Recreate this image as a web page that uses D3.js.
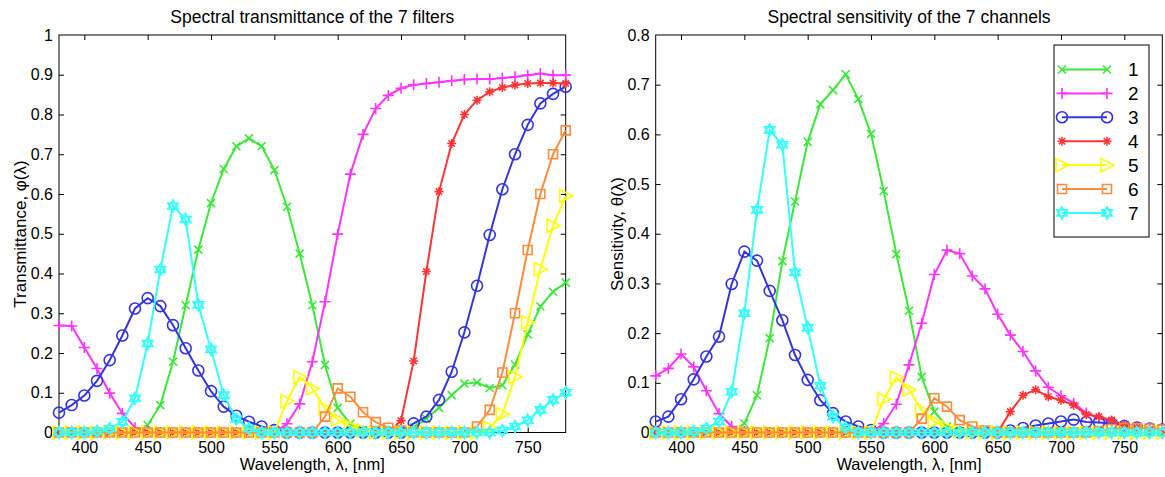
<!DOCTYPE html>
<html>
<head>
<meta charset="utf-8">
<script src="https://cdn.jsdelivr.net/npm/d3@7"></script>
<style>
  body { margin: 0; background: #fff; }
  svg text { font-family: "Liberation Sans", Arial, sans-serif; fill: #000; }
</style>
</head>
<body>
<div id="chart"></div>
<script>
// wavelengths, 380..780 nm every 10 nm
var wavelengths = [380,390,400,410,420,430,440,450,460,470,480,490,500,510,520,530,540,550,560,570,
                   580,590,600,610,620,630,640,650,660,670,680,690,700,710,720,730,740,750,760,770,780];

// transmittance of the 7 filters
var trans1 = [0,0,0,0,0,0,0.003,0.019,0.069,0.178,0.32,0.46,0.577,0.663,0.72,0.74,0.72,0.66,0.568,0.45,
              0.32,0.17,0.062,0.022,0.006,0.002,0.002,0.005,0.013,0.035,0.062,0.094,0.123,0.126,0.112,0.119,0.171,0.247,0.317,0.354,0.377];
var trans2 = [0.269,0.268,0.214,0.161,0.099,0.048,0.012,0.003,0,0,0,0,0,0,0,0,0,0,0.022,0.072,
              0.178,0.329,0.499,0.65,0.75,0.815,0.848,0.866,0.875,0.878,0.881,0.885,0.888,0.889,0.889,0.892,0.895,0.899,0.903,0.899,0.899];
var trans3 = [0.05,0.069,0.093,0.13,0.182,0.244,0.312,0.338,0.318,0.27,0.212,0.156,0.104,0.065,0.042,0.027,0.015,0.006,0,0,
              0,0,0,0,0,0,0,0,0.023,0.04,0.082,0.153,0.252,0.369,0.497,0.612,0.70,0.774,0.828,0.852,0.87];
var trans4 = [0,0,0,0,0,0,0,0,0,0,0,0,0,0,0,0,0,0,0,0,
              0,0,0,0,0,0,0,0.03,0.18,0.405,0.606,0.727,0.80,0.836,0.857,0.868,0.874,0.878,0.879,0.879,0.878];
var trans5 = [0,0,0,0,0,0,0,0,0,0,0,0,0,0,0,0,0,0,0.079,0.14,
              0.111,0.061,0.032,0.015,0.005,0,0,0,0,0,0,0,0,0,0.012,0.046,0.14,0.277,0.411,0.52,0.595];
var trans6 = [0,0,0,0,0,0,0,0,0,0,0,0,0,0,0,0,0,0,0,0,
              0,0.04,0.111,0.09,0.051,0.026,0.012,0.005,0,0,0,0,0,0.015,0.057,0.151,0.30,0.459,0.60,0.70,0.76];
var trans7 = [0,0,0,0.003,0.01,0.027,0.086,0.224,0.41,0.57,0.536,0.321,0.209,0.094,0.034,0.01,0,0,0,0,
              0,0,0,0,0,0,0,0,0,0,0,0,0,0,0,0.005,0.015,0.031,0.057,0.082,0.10];

// sensitivity of the 7 channels
var sens1 = [0,0,0,0,0,0,0.002,0.018,0.075,0.19,0.345,0.465,0.585,0.661,0.689,0.721,0.671,0.601,0.486,0.359,
             0.245,0.112,0.042,0.012,0.003,0,0,0,0,0,0,0,0,0,0,0,0,0,0,0,0];
var sens2 = [0.114,0.129,0.158,0.132,0.084,0.038,0.012,0.002,0,0,0,0,0,0,0,0,0,0,0.018,0.057,
             0.136,0.22,0.318,0.367,0.36,0.315,0.289,0.238,0.196,0.163,0.124,0.091,0.074,0.059,0.039,0.029,0.022,0.015,0.01,0.008,0.006];
var sens3 = [0.022,0.032,0.067,0.107,0.153,0.193,0.299,0.364,0.346,0.285,0.226,0.156,0.106,0.065,0.039,0.022,0.012,0.005,0,0,
             0,0,0,0,0,0,0,0,0.004,0.009,0.014,0.018,0.022,0.026,0.021,0.02,0.018,0.013,0.01,0.008,0.006];
var sens4 = [0,0,0,0,0,0,0,0,0,0,0,0,0,0,0,0,0,0,0,0,
             0,0,0,0,0,0,0,0,0.042,0.075,0.086,0.072,0.065,0.055,0.036,0.032,0.025,0.015,0.01,0.006,0.004];
var sens5 = [0,0,0,0,0,0,0,0,0,0,0,0,0,0,0,0,0,0,0.067,0.111,
             0.086,0.045,0.022,0.01,0.003,0,0,0,0,0,0,0,0,0,0,0,0,0,0,0,0];
var sens6 = [0,0,0,0,0,0,0,0,0,0,0,0,0,0,0,0,0,0,0,0,
             0,0.028,0.069,0.052,0.025,0.012,0.004,0,0,0,0,0,0,0,0,0.003,0.007,0.009,0.009,0.008,0.006];
var sens7 = [0,0,0,0.002,0.008,0.022,0.082,0.24,0.448,0.609,0.579,0.322,0.211,0.094,0.032,0.01,0,0,0,0,
             0,0,0,0,0,0,0,0,0,0,0,0,0,0,0,0,0,0,0,0,0];

var seriesNames = ["1","2","3","4","5","6","7"];
var seriesColors = ["#3ae83a","#ff33ff","#3535e0","#ff3535","#ffff00","#ff8c3c","#33ffff"];
var seriesMarkers = ["x","plus","circle","star","triangle","square","hexagram"];
var xTicks = [400,450,500,550,600,650,700,750];

var W = 1165, H = 477;
var svg = d3.select("#chart").append("svg")
  .attr("width", W).attr("height", H);

function markerPath(type){
  switch(type){
    case "x": return "M-4,-4L4,4M-4,4L4,-4";
    case "plus": return "M-5.5,0H5.5M0,-5.5V5.5";
    case "circle": return "M5.5,0A5.5,5.5 0 1,1 -5.5,0A5.5,5.5 0 1,1 5.5,0Z";
    case "star": return "M-4.5,0H4.5M0,-4.5V4.5M-3.2,-3.2L3.2,3.2M-3.2,3.2L3.2,-3.2";
    case "triangle": return "M-6,-6.5L7,0L-6,6.5Z";
    case "square": return "M-4.5,-4.5h9v9h-9Z";
    case "hexagram":
      var r = 6, up = [], dn = [];
      for (var k = 0; k < 3; k++){
        var a1 = -Math.PI/2 + k*2*Math.PI/3, a2 = Math.PI/2 + k*2*Math.PI/3;
        up.push([r*Math.cos(a1), r*Math.sin(a1)]);
        dn.push([r*Math.cos(a2), r*Math.sin(a2)]);
      }
      return "M" + up.join("L") + "Z" + "M" + dn.join("L") + "Z";
  }
}

function drawPanel(opt){
  var x = d3.scaleLinear().domain([380,780]).range(opt.xr);
  var y = d3.scaleLinear().domain([0,opt.ymax]).range([432.5,35]);
  var g = svg.append("g");
  var yTicks = d3.range(0, opt.ymax + 0.001, 0.1).map(function(d){ return Math.round(d*10)/10; });

  // frame
  g.append("rect")
    .attr("x", opt.xr[0]).attr("y", 35)
    .attr("width", opt.xr[1]-opt.xr[0]).attr("height", 432.5-35)
    .attr("fill", "#fff").attr("stroke", "#000").attr("stroke-width", 1);

  var fmt = function(d){ return d === 0 ? "0" : (d === 1 ? "1" : d3.format(".1f")(d)); };

  var ax = g.append("g").attr("transform", "translate(0,432.5)")
    .call(d3.axisBottom(x).tickValues(xTicks).tickSizeInner(-5).tickSizeOuter(0).tickPadding(9));
  var axT = g.append("g").attr("transform", "translate(0,35)")
    .call(d3.axisTop(x).tickValues(xTicks).tickSizeInner(-5).tickSizeOuter(0).tickFormat(""));
  var ay = g.append("g").attr("transform", "translate(" + opt.xr[0] + ",0)")
    .call(d3.axisLeft(y).tickValues(yTicks).tickSizeInner(-5).tickSizeOuter(0).tickPadding(6).tickFormat(fmt));
  var ayR = g.append("g").attr("transform", "translate(" + opt.xr[1] + ",0)")
    .call(d3.axisRight(y).tickValues(yTicks).tickSizeInner(-5).tickSizeOuter(0).tickFormat(""));
  [ax, axT, ay, ayR].forEach(function(a){
    a.select(".domain").remove();
    a.selectAll("line").attr("stroke", "#000");
    a.selectAll("text").style("font-size", "16px").attr("fill", "#000");
  });
  // 0 and top ticks are not drawn at the frame corners
  ay.selectAll(".tick line").filter(function(d){ return d === 0 || d === opt.ymax; }).remove();
  ayR.selectAll(".tick line").filter(function(d){ return d === 0 || d === opt.ymax; }).remove();

  var cx = (opt.xr[0] + opt.xr[1]) / 2;
  g.append("text").attr("x", cx).attr("y", 23).attr("text-anchor", "middle")
    .style("font-size", "17.5px").text(opt.title);
  g.append("text").attr("x", cx).attr("y", 470).attr("text-anchor", "middle")
    .style("font-size", "16.5px").text("Wavelength, \u03bb, [nm]");
  g.append("text")
    .attr("transform", "translate(" + (opt.xr[0]-33) + ",234) rotate(-90)")
    .attr("text-anchor", "middle").style("font-size", "17px").text(opt.ylabel);

  var line = d3.line().x(function(d){ return x(d[0]); }).y(function(d){ return y(d[1]); });

  opt.series.forEach(function(vals, i){
    var pts = wavelengths.map(function(w, j){ return [w, vals[j]]; });
    g.append("path").datum(pts).attr("d", line)
      .attr("fill", "none").attr("stroke", seriesColors[i]).attr("stroke-width", 2);
    g.selectAll(".m" + i).data(pts).enter().append("path")
      .attr("class", "m" + i)
      .attr("transform", function(d){ return "translate(" + x(d[0]) + "," + y(d[1]) + ")"; })
      .attr("d", markerPath(seriesMarkers[i]))
      .attr("fill", "none").attr("stroke", seriesColors[i]).attr("stroke-width", 1.6);
  });
  return g;
}

drawPanel({
  xr: [59, 565.7], ymax: 1,
  title: "Spectral transmittance of the 7 filters",
  ylabel: "Transmittance, \u03c6(\u03bb)",
  series: [trans1, trans2, trans3, trans4, trans5, trans6, trans7]
});

drawPanel({
  xr: [655.7, 1162.3], ymax: 0.8,
  title: "Spectral sensitivity of the 7 channels",
  ylabel: "Sensitivity, \u03b8(\u03bb)",
  series: [sens1, sens2, sens3, sens4, sens5, sens6, sens7]
});

// legend
var leg = svg.append("g");
leg.append("rect").attr("x", 1054).attr("y", 45).attr("width", 95).attr("height", 192)
  .attr("fill", "#fff").attr("stroke", "#000").attr("stroke-width", 1);
seriesNames.forEach(function(name, i){
  var yy = 69.5 + i * 23.9;
  leg.append("line").attr("x1", 1062).attr("x2", 1107).attr("y1", yy).attr("y2", yy)
    .attr("stroke", seriesColors[i]).attr("stroke-width", 2);
  [1062, 1107].forEach(function(xx){
    leg.append("path").attr("transform", "translate(" + xx + "," + yy + ")")
      .attr("d", markerPath(seriesMarkers[i]))
      .attr("fill", "none").attr("stroke", seriesColors[i]).attr("stroke-width", 1.6);
  });
  leg.append("text").attr("x", 1128).attr("y", yy).attr("dy", "0.36em")
    .style("font-size", "19px").text(name);
});
</script>
</body>
</html>
